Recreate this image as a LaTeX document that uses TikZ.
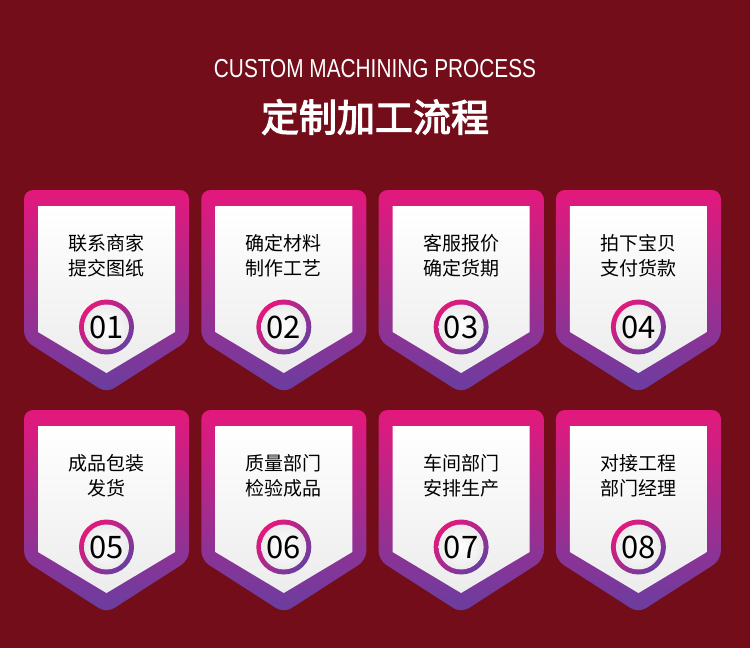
\documentclass[tikz,border=0pt]{standalone}
\usepackage{fontspec}
\setmainfont{Liberation Sans}
\newfontfamily\cjk{Noto Sans CJK SC}
\newfontfamily\cjkb[FakeBold=3]{Noto Sans CJK SC}
\definecolor{bgc}{RGB}{115,13,25}
\definecolor{pinkc}{RGB}{228,24,124}
\definecolor{midc}{RGB}{170,48,144}
\definecolor{purplec}{RGB}{104,62,160}
\definecolor{panelbot}{RGB}{236,236,236}
\tikzset{
  cardtext/.style={font=\cjk\fontsize{19}{19}\selectfont, text=black, inner sep=0pt, anchor=center},
  numtext/.style={font=\cjk\fontsize{31}{31}\selectfont, text=black, inner sep=0pt, anchor=center},
}
\begin{document}
\begin{tikzpicture}[x=1pt,y=-1pt]
\fill[bgc] (0,0) rectangle (750,648);
\useasboundingbox (0,0) rectangle (750,648);
\node[text=white, inner sep=0pt, font=\fontsize{26}{26}\selectfont] (title) at (375,69) {\scalebox{0.8}[1]{CUSTOM MACHINING PROCESS}};
\node[text=white, inner sep=0pt, font=\cjkb\fontsize{38}{38}\selectfont] (ctitle) at (375,117) {定制加工流程};
\foreach \ta/\tb [count=\n] in {联系商家/提交图纸, 确定材料/制作工艺, 客服报价/确定货期, 拍下宝贝/支付货款, 成品包装/发货, 质量部门/检验成品, 车间部门/安排生产, 对接工程/部门经理}{
  \pgfmathtruncatemacro\col{mod(\n-1,4)}
  \pgfmathtruncatemacro\row{(\n-1)/4}
  \begin{scope}[shift={(24+177.3*\col,190+220*\row)}]
    \shade[top color=pinkc, middle color=midc, bottom color=purplec, rounded corners=9]
      (0,0) -- (165,0) -- (165,150) -- (82.5,203) -- (0,150) -- cycle;
    \shade[top color=white, bottom color=panelbot]
      (14,16) -- (151,16) -- (151,142) -- (82.5,183) -- (14,142) -- cycle;
    \node[cardtext] (a\n) at (82.5,53) {\ta};
    \node[cardtext] (b\n) at (82.5,78) {\tb};
    \shade[top color=pinkc, bottom color=purplec, shading angle=45] (82.5,137) circle (27.5);
    \shade[inner color=white, outer color=panelbot] (82.5,137) circle (22.5);
    \node[numtext] (n\n) at (82.5,137) {0\n};
  \end{scope}
}
\end{tikzpicture}
\end{document}
